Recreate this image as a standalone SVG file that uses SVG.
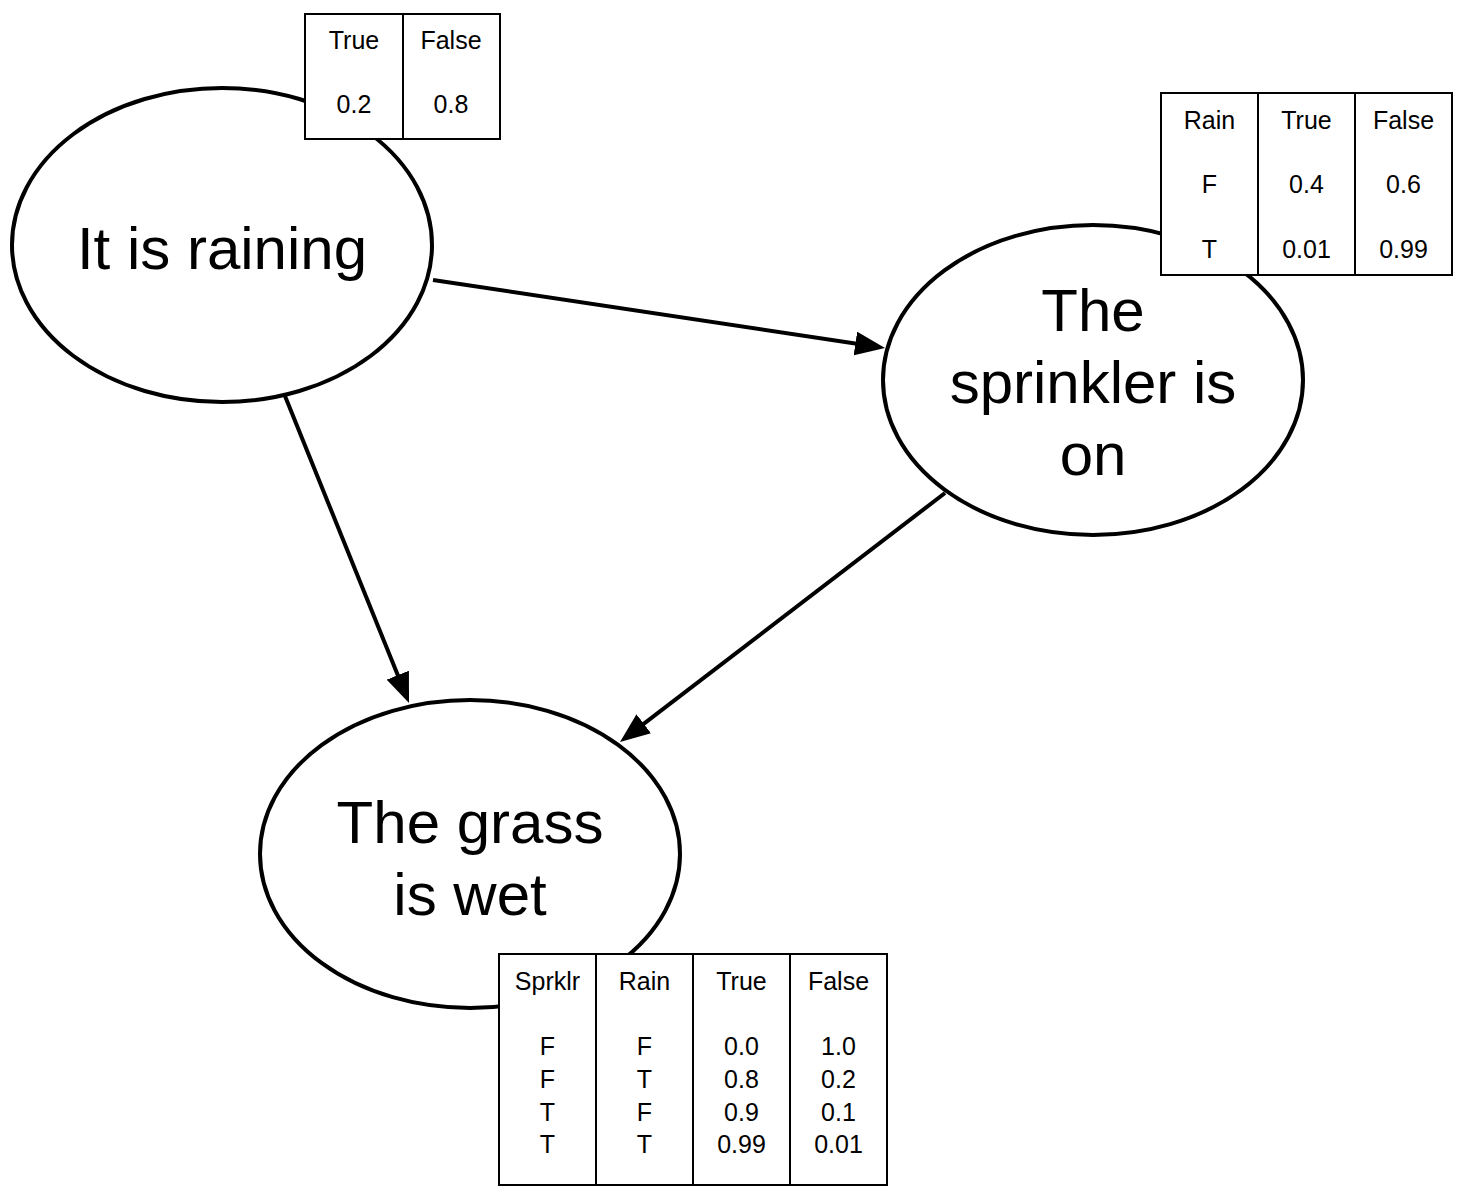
<svg xmlns="http://www.w3.org/2000/svg" width="1466" height="1198" viewBox="0 0 1466 1198">
<style>
.node{fill:#fff;stroke:#000;stroke-width:4}
.big{font-family:"Liberation Sans",Arial,sans-serif;font-size:60px;text-anchor:middle;fill:#000}
.cell{fill:#fff;stroke:#000;stroke-width:2}
.t{font-family:"Liberation Sans",Arial,sans-serif;font-size:25px;text-anchor:middle;fill:#000}
.edge{fill:none;stroke:#000;stroke-width:4}
</style>
<defs>
<marker id="arr" viewBox="0 0 30 24" refX="15" refY="12" markerWidth="30" markerHeight="24" markerUnits="userSpaceOnUse" orient="auto">
<path d="M0,0 L30,12 L0,24 z" fill="#000"/>
</marker>
</defs>
<rect width="1466" height="1198" fill="#fff"/>
<g id="connectors">
<line class="edge" x1="433" y1="280" x2="870.2" y2="345.8" marker-end="url(#arr)"/>
<line class="edge" x1="285" y1="396" x2="403.4" y2="689.1" marker-end="url(#arr)"/>
<line class="edge" x1="945" y1="493" x2="631.9" y2="732.9" marker-end="url(#arr)"/>
</g>
<g id="rain">
<ellipse class="node" cx="222" cy="245" rx="210" ry="157"/>
<text class="big" x="222" y="269">It is raining</text>
</g>
<g id="sprinkler">
<ellipse class="node" cx="1093" cy="380" rx="210" ry="155"/>
<text class="big" x="1093" y="331">The</text>
<text class="big" x="1093" y="403">sprinkler is</text>
<text class="big" x="1093" y="475">on</text>
</g>
<g id="grass">
<ellipse class="node" cx="470" cy="854" rx="210" ry="154"/>
<text class="big" x="470" y="843">The grass</text>
<text class="big" x="470" y="915">is wet</text>
</g>
<g id="table-rain">
<rect class="cell" x="305" y="14" width="98" height="125"/>
<rect class="cell" x="403" y="14" width="97" height="125"/>
<text class="t" x="354" y="49">True</text>
<text class="t" x="451" y="49">False</text>
<text class="t" x="354" y="113">0.2</text>
<text class="t" x="451" y="113">0.8</text>
</g>
<g id="table-sprinkler">
<rect class="cell" x="1161" y="93" width="97" height="182"/>
<rect class="cell" x="1258" y="93" width="97" height="182"/>
<rect class="cell" x="1355" y="93" width="97" height="182"/>
<text class="t" x="1209.5" y="129">Rain</text>
<text class="t" x="1306.5" y="129">True</text>
<text class="t" x="1403.5" y="129">False</text>
<text class="t" x="1209.5" y="193">F</text>
<text class="t" x="1306.5" y="193">0.4</text>
<text class="t" x="1403.5" y="193">0.6</text>
<text class="t" x="1209.5" y="258">T</text>
<text class="t" x="1306.5" y="258">0.01</text>
<text class="t" x="1403.5" y="258">0.99</text>
</g>
<g id="table-grass">
<rect class="cell" x="499" y="954" width="97" height="231"/>
<rect class="cell" x="596" y="954" width="97" height="231"/>
<rect class="cell" x="693" y="954" width="97" height="231"/>
<rect class="cell" x="790" y="954" width="97" height="231"/>
<text class="t" x="547.5" y="990">Sprklr</text>
<text class="t" x="644.5" y="990">Rain</text>
<text class="t" x="741.5" y="990">True</text>
<text class="t" x="838.5" y="990">False</text>
<text class="t" x="547.5" y="1055">F</text>
<text class="t" x="644.5" y="1055">F</text>
<text class="t" x="741.5" y="1055">0.0</text>
<text class="t" x="838.5" y="1055">1.0</text>
<text class="t" x="547.5" y="1088">F</text>
<text class="t" x="644.5" y="1088">T</text>
<text class="t" x="741.5" y="1088">0.8</text>
<text class="t" x="838.5" y="1088">0.2</text>
<text class="t" x="547.5" y="1120.5">T</text>
<text class="t" x="644.5" y="1120.5">F</text>
<text class="t" x="741.5" y="1120.5">0.9</text>
<text class="t" x="838.5" y="1120.5">0.1</text>
<text class="t" x="547.5" y="1153">T</text>
<text class="t" x="644.5" y="1153">T</text>
<text class="t" x="741.5" y="1153">0.99</text>
<text class="t" x="838.5" y="1153">0.01</text>
</g>
</svg>
